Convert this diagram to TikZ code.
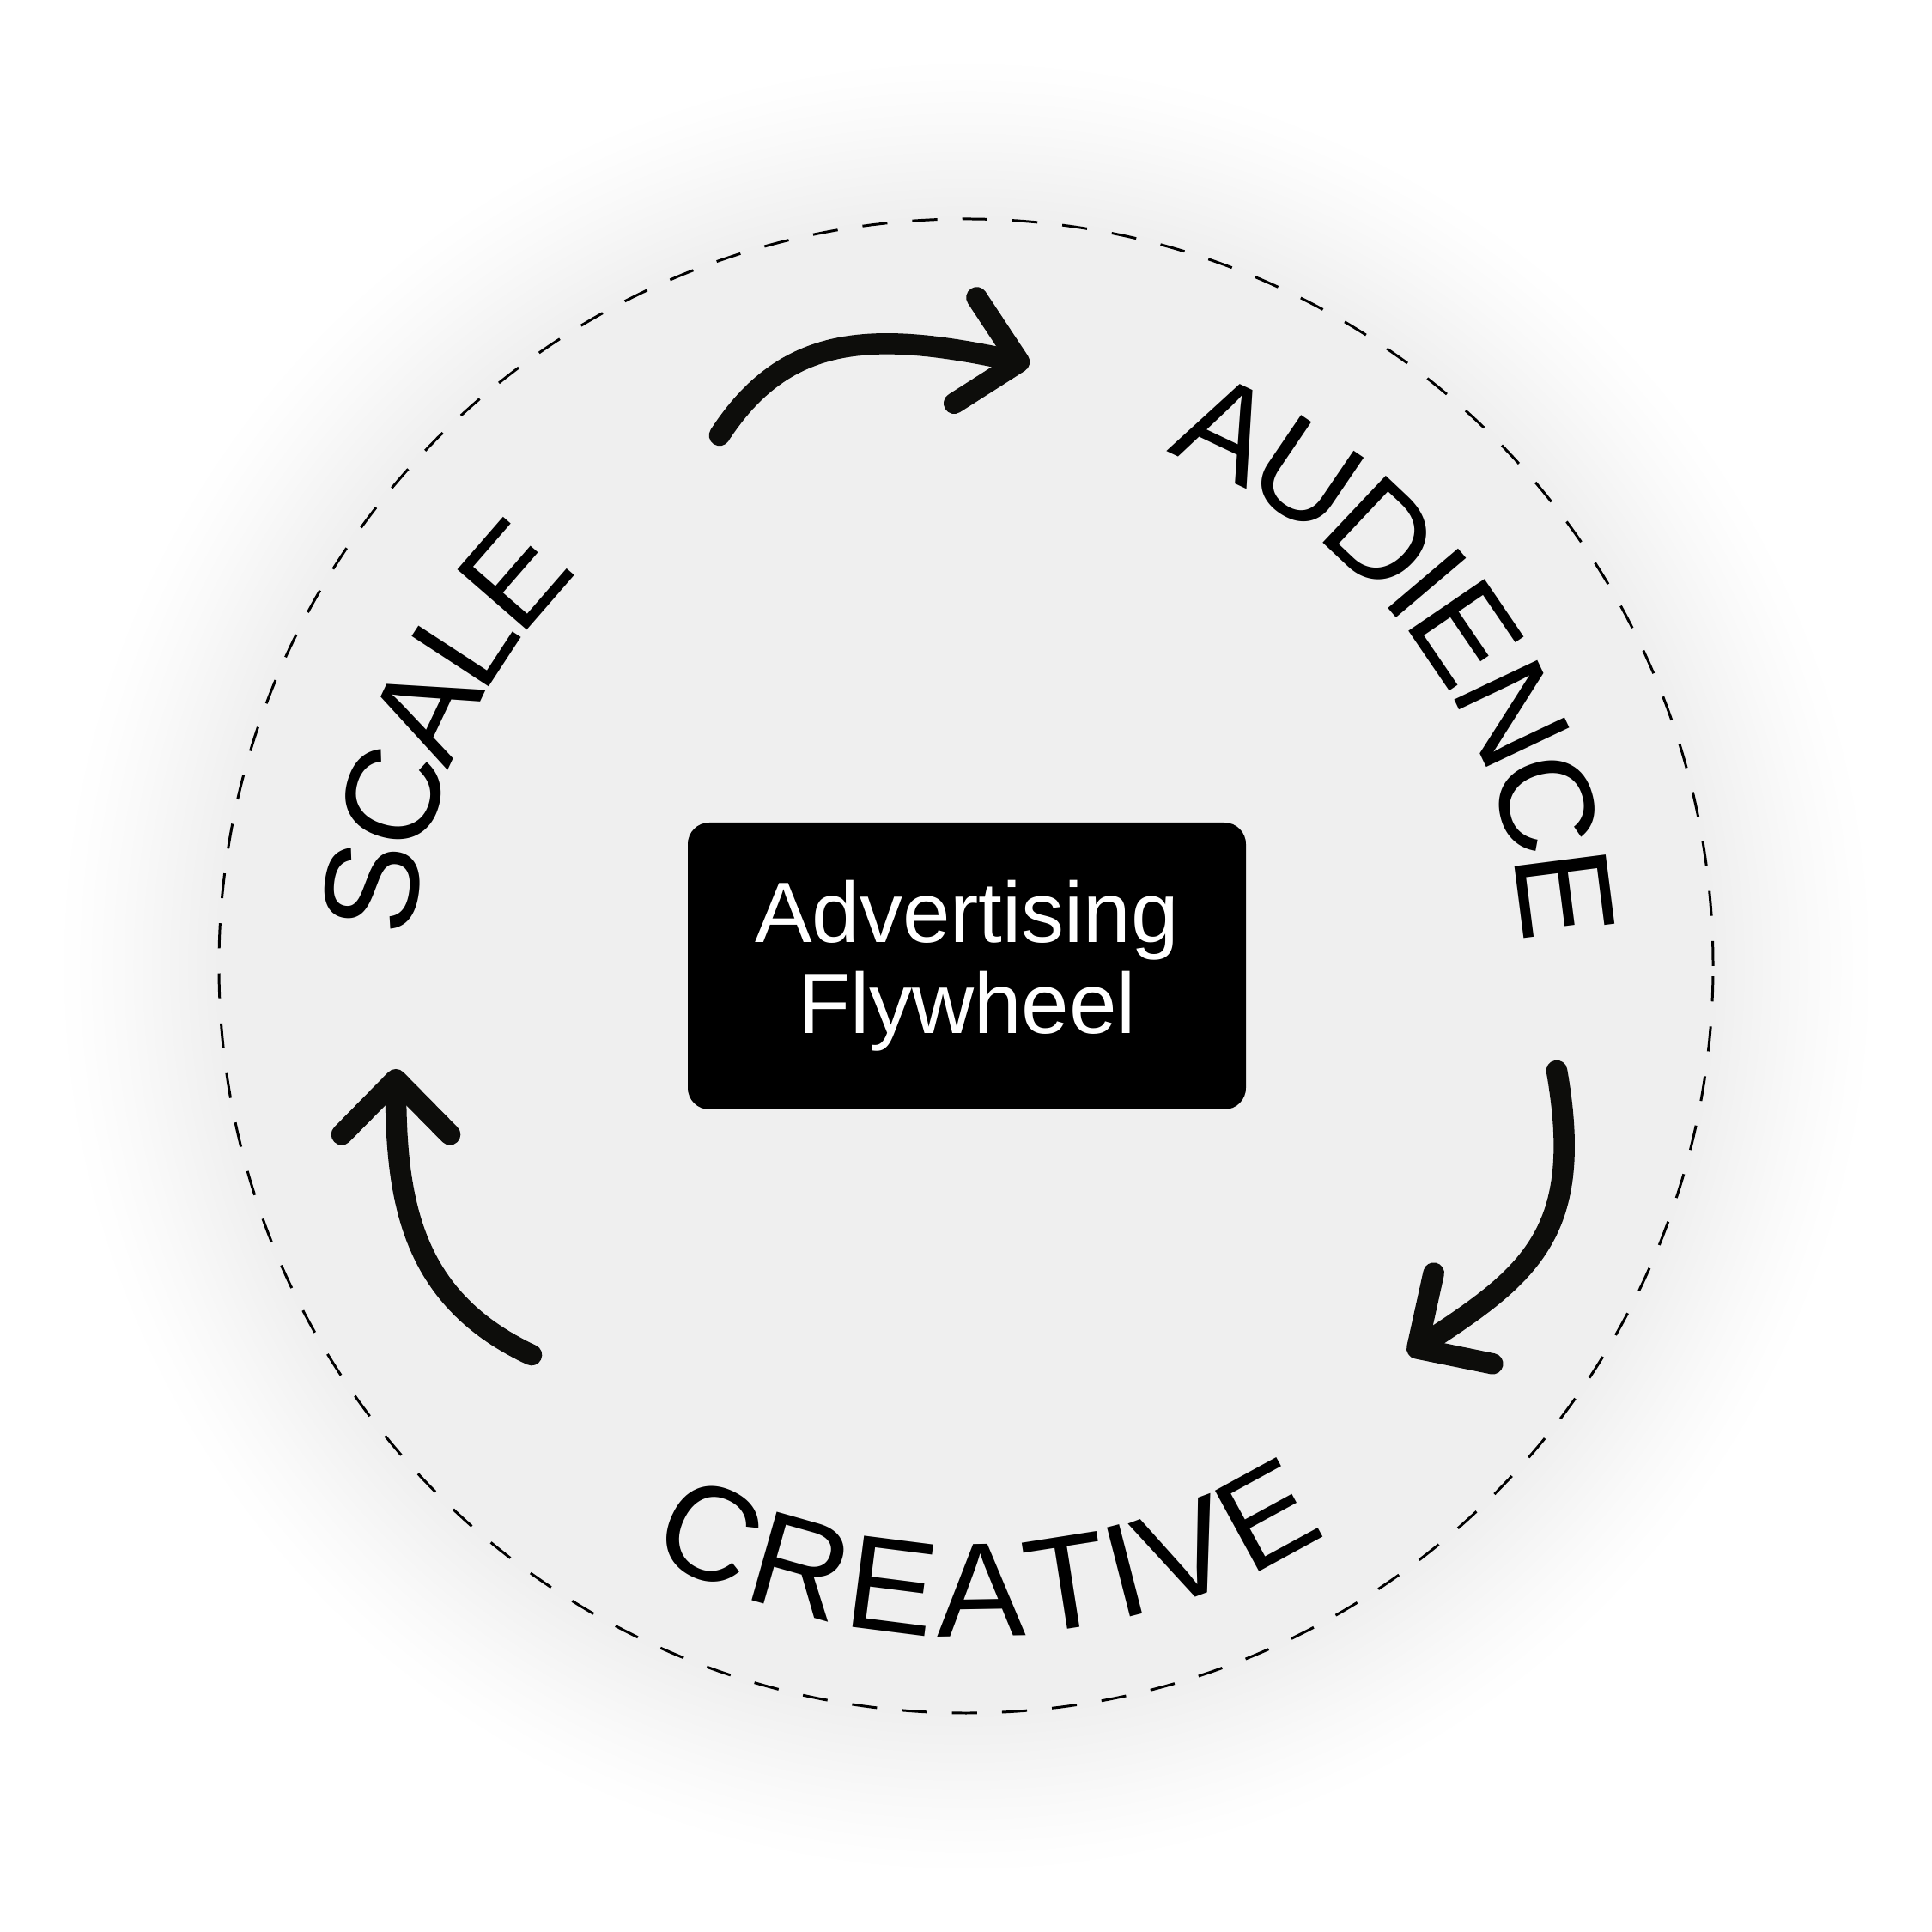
\documentclass[tikz,border=0pt]{standalone}
\usepackage{fontspec}
\setsansfont{Liberation Sans}
\usepackage{xcolor}
\usetikzlibrary{arrows.meta}
\usetikzlibrary{decorations.text}
\definecolor{disc}{RGB}{239,239,239}
\definecolor{ink}{RGB}{13,13,11}
\colorlet{glowa}{disc!70!white}
\colorlet{glowb}{disc!35!white}
\colorlet{glowc}{disc!10!white}
\pgfdeclareradialshading{glow}{\pgfpointorigin}{color(0bp)=(disc); color(20.5bp)=(disc); color(21.7bp)=(glowa); color(23.1bp)=(glowb); color(24.3bp)=(glowc); color(25bp)=(white); color(50bp)=(white)}
\newcommand{\ringfont}{\sffamily\fontsize{44.3}{44.3}\selectfont}

\begin{document}
\begin{tikzpicture}[
    flow/.style={ink,line width=7pt,line cap=round,-{Straight Barb[length=6.4mm,width=12.6mm,round]}},
    ring/.style={line width=0.85pt,dash pattern=on 8.3pt off 8.3pt},
    word/.style={decorate,decoration={text along path,text align=center,raise=-5.58mm,text={|\ringfont|#1}}},
    flybox/.style={fill=black,text=white,rounded corners=2.5mm,minimum width=6.5cm,minimum height=3.34cm,align=center,font=\sffamily\fontsize{28.4}{30.2}\selectfont}
]
    \fill[white] (-11.3,-11.2) rectangle (11.2,11.3);
    \useasboundingbox (-11.3,-11.2) rectangle (11.2,11.3);
    \shade[shading=glow] (-0.05,0.05) circle (10.6);
    \draw[ring] (-0.05,0.05) circle (8.70);

    \node[flybox] (hub) at (-0.04,0.05) {Advertising\\Flywheel};

    \path[word=AUDIENCE] (96:7.0) arc[start angle=96,end angle=-24,radius=7.0];
    \path[word=SCALE] (215.6:7.05) arc[start angle=215.6,end angle=95.6,radius=7.05];
    \path[word=CREATIVE] (-148.3:7.2) arc[start angle=-148.3,end angle=-28.3,radius=7.2];

    \draw[flow] (-2.92,6.23) to[out=57,in=168,out distance=1.4cm,in distance=1.9cm] (0.69,7.06);
    \draw[flow] (6.83,-1.17) to[out=-80,in=33,out distance=1.9cm,in distance=1.7cm] (5.10,-4.47);
    \draw[flow] (-5.11,-4.48) to[out=155,in=-90,out distance=1.5cm,in distance=1.6cm] (-6.69,-1.15);
\end{tikzpicture}
\end{document}
